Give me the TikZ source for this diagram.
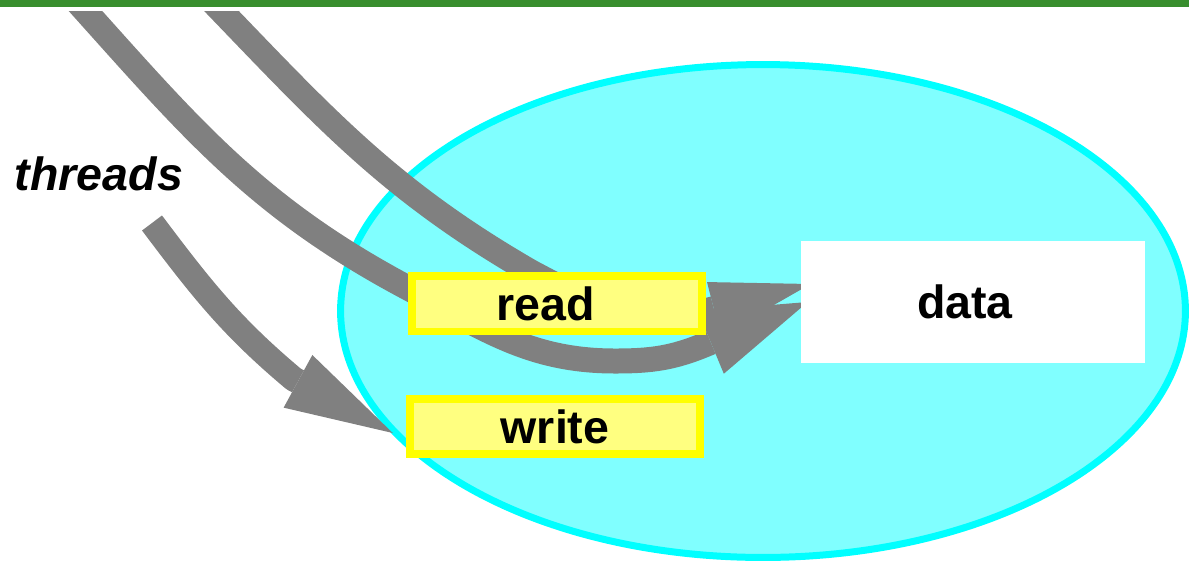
\documentclass[tikz,border=0pt]{standalone}
\usepackage{fontspec}
\setmainfont{Liberation Sans}
\usetikzlibrary{arrows.meta}
\definecolor{threadgray}{RGB}{128,128,128}
\definecolor{poolfill}{RGB}{128,255,255}
\definecolor{poolline}{RGB}{0,255,255}
\definecolor{opfill}{RGB}{255,255,128}
\definecolor{opline}{RGB}{255,255,0}
\definecolor{barcolor}{RGB}{56,142,46}
\pgfdeclarelayer{back}
\pgfsetlayers{back,main}

\begin{document}
\begin{tikzpicture}[x=0.02cm,y=0.02cm,
  thread/.style={draw=threadgray,line width=0.5cm,line join=round},
  opbox/.style={draw=opline,fill=opfill,inner sep=0pt,minimum width=5.81cm,minimum height=1.11cm,
    font=\fontsize{26.5}{32}\selectfont\bfseries}]
  \useasboundingbox (0,0) rectangle (1189,-562);
  \fill[barcolor] (0,0) rectangle (1189,-7);

  % boxes
  \node[opbox,line width=0.15cm] (read) at (557,-303.5) {read\hspace*{0.44cm}};
  \node[opbox,line width=0.16cm] (write) at (555,-426.5) {write};
  \node[fill=white,inner sep=0pt,minimum width=6.88cm,minimum height=2.44cm,
    font=\fontsize{26.5}{32}\selectfont\bfseries] (data) at (973,-302) {data\hspace*{0.32cm}};
  \node[font=\fontsize{26.5}{32}\selectfont\bfseries\itshape,anchor=base] (lbl) at (99,-190) {threads};

  % thread ends
  \coordinate (aStart) at (72,4);
  \coordinate (bStart) at (207,4);
  \coordinate (wStart) at (152,-223);
  \coordinate (aTip) at ([xshift=0.14cm]data.west);
  \coordinate (bTip) at ([shift={(0.2cm,0.36cm)}]data.west);
  \coordinate (wTip) at ([shift={(-0.26cm,-0.13cm)}]write.west);
  \coordinate (aTail) at ([shift={(202.6:2.2cm)}]aTip);
  \coordinate (bTail) at ([shift={(194.3:2.2cm)}]bTip);
  \coordinate (wTail) at ([shift={(151.4:2.26cm)}]wTip);

  \begin{pgfonlayer}{back}
    \draw[draw=poolline,fill=poolfill,line width=0.14cm] (763,-311) ellipse [x radius=8.45cm,y radius=4.93cm];
    \begin{scope}
      \clip (0,-11) rectangle (1189,-562);
      \draw[thread,-{Triangle[length=2.1cm,width=1.36cm,line width=0pt]}]
        (aStart) to[out=-48,in=152] (408,-288) to[out=-28,in=180] (615,-361)
        to[out=0,in=202.6] (aTail) -- (aTip);
      \draw[thread,-{Triangle[length=2cm,width=1.1cm,line width=0pt]}]
        (bStart) to[out=-46,in=150] (531,-272) to[out=-28,in=194.3] (bTail) -- (bTip);
      \draw[thread,-{Triangle[length=2.16cm,width=1.2cm,line width=0pt]}]
        (wStart) to[out=-53,in=140] (wTail) -- (wTip);
    \end{scope}
  \end{pgfonlayer}
\end{tikzpicture}
\end{document}
